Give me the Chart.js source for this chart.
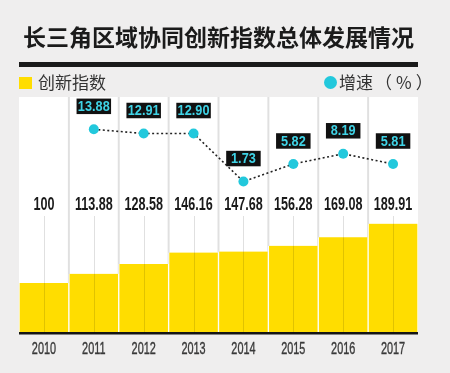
<!DOCTYPE html>
<html><head><meta charset="utf-8">
<script src="https://cdn.jsdelivr.net/npm/chart.js@4"></script>
<style>
html,body{margin:0;padding:0;background:#efeeee;}
#wrap{position:relative;width:450px;height:373px;overflow:hidden;background:#efeeee;}
#c{position:absolute;left:0;top:0;}
#title{position:absolute;left:0;width:437px;top:20px;text-align:center;font-weight:bold;font-size:23px;font-family:"Noto Sans CJK SC",sans-serif;color:#1b1b1b;line-height:32px;white-space:nowrap;}
#rule{position:absolute;left:19px;top:62px;width:399px;height:4.5px;background:#1a1a1a;}
.lg{position:absolute;font-family:"Noto Sans CJK SC",sans-serif;font-size:17px;color:#333;line-height:20px;top:72px;white-space:nowrap;}
#sq{position:absolute;left:19px;top:77px;width:13px;height:12px;background:#ffdd00;}
#dot{position:absolute;left:323.5px;top:76px;width:13px;height:13px;border-radius:50%;background:#22c8dc;}
</style></head>
<body><div id="wrap">
<canvas id="c" width="450" height="373"></canvas>
<div id="title">长三角区域协同创新指数总体发展情况</div>
<div id="rule"></div>
<div id="sq"></div><div class="lg" style="left:38px">创新指数</div>
<div id="dot"></div><div class="lg" style="left:339px">增速<span style="letter-spacing:4px;margin-left:2px">（%）</span></div>
</div>
<script>
const years = ['2010','2011','2012','2013','2014','2015','2016','2017'];
const indexValues = [100, 113.88, 128.58, 146.16, 147.68, 156.28, 169.08, 189.91];
const growthValues = [null, 13.88, 12.91, 12.90, 1.73, 5.82, 8.19, 5.81];

const FONT = '"Liberation Sans",Arial,sans-serif';

function narrowText(ctx, text, x, y, sx) {
  ctx.save();
  ctx.translate(x, y);
  ctx.scale(sx, 1);
  ctx.fillText(text, 0, 0);
  ctx.restore();
}

const deco = {
  id: 'deco',
  beforeDatasetsDraw(chart) {
    const {ctx, chartArea: a} = chart;
    const n = chart.data.labels.length;
    const w = (a.right - a.left) / n;
    ctx.save();
    ctx.fillStyle = '#ffffff';
    ctx.fillRect(a.left, a.top, a.right - a.left, a.bottom - a.top);
    ctx.strokeStyle = '#e0e0e0';
    ctx.lineWidth = 2;
    for (let i = 1; i < n; i++) {
      const xx = a.left + i * w;
      ctx.beginPath(); ctx.moveTo(xx, a.top); ctx.lineTo(xx, a.bottom); ctx.stroke();
    }
    ctx.restore();
  },
  afterDatasetDraw(chart, args) {
    if (args.index !== 0) return;
    const {ctx, chartArea: a, scales: {x}} = chart;
    ctx.save();
    ctx.strokeStyle = 'rgba(0,0,0,0.12)';
    ctx.lineWidth = 1;
    years.forEach((y, i) => {
      const px = Math.round(x.getPixelForValue(i)) + 0.5;
      ctx.beginPath(); ctx.moveTo(px, 216); ctx.lineTo(px, a.bottom); ctx.stroke();
    });
    ctx.fillStyle = '#151515';
    ctx.fillRect(a.left, a.bottom - 1, a.right - a.left, 2.5);
    ctx.textAlign = 'center';
    ctx.textBaseline = 'middle';
    // value labels
    ctx.font = 'bold 18px ' + FONT;
    ctx.fillStyle = '#1a1a1a';
    indexValues.forEach((v, i) => {
      narrowText(ctx, v % 1 === 0 ? String(v) : v.toFixed(2), x.getPixelForValue(i), 205.5, 0.7);
    });
    // year labels
    ctx.font = '17px ' + FONT;
    ctx.fillStyle = '#3a3a3a';
    ctx.strokeStyle = '#3a3a3a';
    ctx.lineWidth = 0.4;
    years.forEach((y, i) => {
      ctx.save();
      ctx.translate(x.getPixelForValue(i), 349);
      ctx.scale(0.64, 1);
      ctx.fillText(y, 0, 0);
      ctx.strokeText(y, 0, 0);
      ctx.restore();
    });
    ctx.restore();
  },
  afterDatasetsDraw(chart) {
    const {ctx} = chart;
    const meta = chart.getDatasetMeta(1);
    ctx.save();
    ctx.font = 'bold 15px ' + FONT;
    ctx.textAlign = 'center';
    ctx.textBaseline = 'middle';
    growthValues.forEach((v, i) => {
      if (v === null) return;
      const pt = meta.data[i];
      const t = v.toFixed(2);
      const bw = 34.5, bh = 15.5;
      const cy = pt.y - 23;
      ctx.fillStyle = '#111';
      ctx.fillRect(pt.x - bw / 2, cy - bh / 2, bw, bh);
      ctx.fillStyle = '#3fd3e6';
      narrowText(ctx, t, pt.x, cy + 0.5, 0.85);
    });
    ctx.restore();
  }
};

new Chart(document.getElementById('c'), {
  data: {
    labels: years,
    datasets: [
      {
        type: 'bar', label: '创新指数', data: indexValues, yAxisID: 'y', order: 1,
        backgroundColor: '#ffdd00', borderColor: '#ffffff',
        borderWidth: {left: 1, right: 1, top: 0, bottom: 0}, borderSkipped: false,
        barPercentage: 1, categoryPercentage: 1
      },
      {
        type: 'line', label: '增速（%）', data: growthValues, yAxisID: 'y2', order: 0,
        borderColor: '#222', borderWidth: 1.6, borderDash: [2, 2.5],
        pointRadius: 5, pointBackgroundColor: '#22c8dc', pointBorderWidth: 0,
        tension: 0
      }
    ]
  },
  options: {
    responsive: false, maintainAspectRatio: false, animation: false, devicePixelRatio: 1,
    layout: {padding: {left: 19, right: 32, top: 97, bottom: 4}},
    plugins: {legend: {display: false}, tooltip: {enabled: false}, title: {display: false}},
    scales: {
      x: {
        grid: {display: false, drawTicks: false},
        border: {display: false},
        ticks: {padding: 9, color: 'rgba(0,0,0,0)', font: {family: FONT, size: 15}}
      },
      y: {display: false, min: 24, max: 382},
      y2: {display: false, min: -33.5, max: 21.4}
    }
  },
  plugins: [deco]
});
</script>
</body></html>
